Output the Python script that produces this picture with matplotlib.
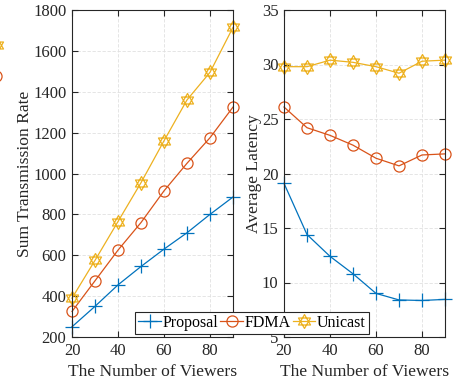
import numpy as np
import matplotlib
matplotlib.use('Agg')
import matplotlib.pyplot as plt
from matplotlib.path import Path
from matplotlib.lines import Line2D

plt.rcParams['font.family'] = ['Liberation Serif', 'DejaVu Serif']

# data
viewers = [20, 30, 40, 50, 60, 70, 80, 90]
rate_proposal = [250, 350, 455, 545, 630, 710, 800, 885]
rate_fdma = [325, 475, 625, 760, 915, 1050, 1175, 1325]
rate_unicast = [390, 575, 765, 955, 1160, 1360, 1495, 1715]
lat_proposal = [19.1, 14.4, 12.4, 10.8, 9.0, 8.4, 8.35, 8.45]
lat_fdma = [26.1, 24.2, 23.5, 22.6, 21.4, 20.7, 21.7, 21.8]
lat_unicast = [29.8, 29.8, 30.4, 30.2, 29.8, 29.2, 30.3, 30.4]
names = ['Proposal', 'FDMA', 'Unicast']

c_blue, c_red, c_yel = '#0072BD', '#D95319', '#EDB120'

# six pointed star made of two triangles (like matlab hexagram)
ang_up = np.deg2rad([90, 210, 330])
ang_dn = np.deg2rad([270, 30, 150])
verts = []
codes = []
for angs in (ang_up, ang_dn):
    pts = [(np.cos(a), np.sin(a)) for a in angs]
    verts += pts + [pts[0]]
    codes += [Path.MOVETO, Path.LINETO, Path.LINETO, Path.CLOSEPOLY]
hexagram = Path(verts, codes)

W, H = 465, 385
fig = plt.figure(figsize=(W / 100, H / 100), dpi=100)
ax1 = fig.add_axes([72 / W, 1 - 337 / H, 161 / W, 327 / H])
ax2 = fig.add_axes([284 / W, 1 - 337 / H, 161 / W, 327 / H])

styles = [dict(color=c_blue, marker='+', ms=10, mew=0.9),
          dict(color=c_red, marker='o', ms=8, mfc='none', mew=0.9),
          dict(color=c_yel, marker=hexagram, ms=10, mfc='none', mew=0.9)]

for ax, ys in [(ax1, [rate_proposal, rate_fdma, rate_unicast]),
               (ax2, [lat_proposal, lat_fdma, lat_unicast])]:
    for y, st, nm in zip(ys, styles, names):
        ax.plot(viewers, y, lw=0.9, label=nm, clip_on=False, **st)
    ax.set_xlim(20, 90)
    ax.set_xticks([20, 40, 60, 80])
    ax.grid(True, color='#e0e0e0', lw=0.6, ls=(0, (4, 2)))
    ax.tick_params(direction='in', top=True, right=True, labelsize=12,
                   length=4, width=0.8, colors='#262626', pad=4)
    for s in ax.spines.values():
        s.set_color('#262626')
        s.set_linewidth(0.8)
    ax.set_xlabel('The Number of Viewers', fontsize=12.6, labelpad=4, color='#262626')

ax1.set_ylim(200, 1800)
ax1.set_yticks(range(200, 1801, 200))
ax1.set_ylabel('Sum Transmission Rate', fontsize=12.6, labelpad=0, color='#262626')
ax2.set_ylim(5, 35)
ax2.set_yticks(range(5, 36, 5))
ax2.set_ylabel('Average Latency', fontsize=12.6, labelpad=0, color='#262626')

h, l = ax1.get_legend_handles_labels()
leg = fig.legend(h, l, loc='lower center', ncol=3,
                 bbox_to_anchor=(252 / W, 1 - 334 / H), fontsize=11.5,
                 frameon=True, fancybox=False, framealpha=1, edgecolor='#262626',
                 handlelength=1.4, handletextpad=0.1, columnspacing=0.15,
                 borderpad=0.2, borderaxespad=0)
leg.get_frame().set_linewidth(0.8)

# bits of a cropped legend at the left edge
fig.add_artist(Line2D([-3 / W], [1 - 45 / H], transform=fig.transFigure,
                      marker=hexagram, ms=10, mfc='none', color=c_yel, mew=0.9))
fig.add_artist(Line2D([-4 / W], [1 - 76 / H], transform=fig.transFigure,
                      marker='o', ms=8, mfc='none', color=c_red, mew=0.9))

fig.savefig('out.png', dpi=100)
